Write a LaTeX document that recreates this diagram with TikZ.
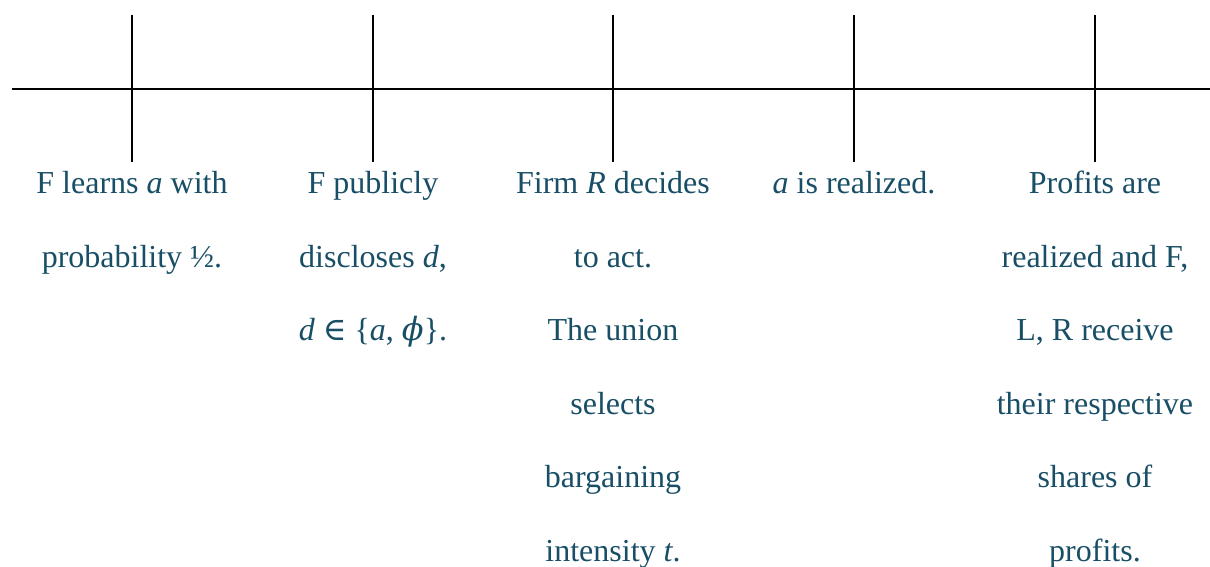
\documentclass[tikz,border=0pt]{standalone}
\usepackage{fontspec}
\setmainfont{Liberation Serif}
\newfontfamily\symfont{DejaVu Serif}
\usepackage{tikz}

\definecolor{eventtext}{RGB}{24,78,102}
\tikzset{
  event/.style={anchor=north, inner sep=0pt, align=center, text=eventtext,
    font=\fontsize{16}{36.75}\selectfont},
  tick/.style={line width=1pt}
}

\begin{document}
\begin{tikzpicture}[x=0.5pt, y=-0.5pt]
\useasboundingbox (0,0) rectangle (1210,567);
% the time line
\coordinate (start) at (12,89);
\coordinate (end) at (1210,89);
\draw [tick] (start) -- (end);
\foreach \name/\x in {t1/132, t2/373, t3/613, t4/854, t5/1095} {
  \coordinate (\name top) at (\x,15);
  \coordinate (\name) at (\x,162);
  \draw [tick] (\name top) -- (\name);
}
% what happens at each date
\node [event] (learn) at (132,171) {F learns \textit{a} with\\probability ½.};
\node [event] (disclose) at (373,171) {F publicly\\discloses \textit{d},\\\textit{d} {\symfont∈} \{\textit{a}, {\symfont\itshape ϕ}\}.};
\node [event] (act) at (613,171) {Firm \textit{R} decides\\to act.\\The union\\selects\\bargaining\\intensity \textit{t}.};
\node [event] (real) at (854,171) {\textit{a} is realized.};
\node [event] (profit) at (1095,171) {Profits are\\realized and F,\\L, R receive\\their respective\\shares of\\profits.};
\end{tikzpicture}
\end{document}
